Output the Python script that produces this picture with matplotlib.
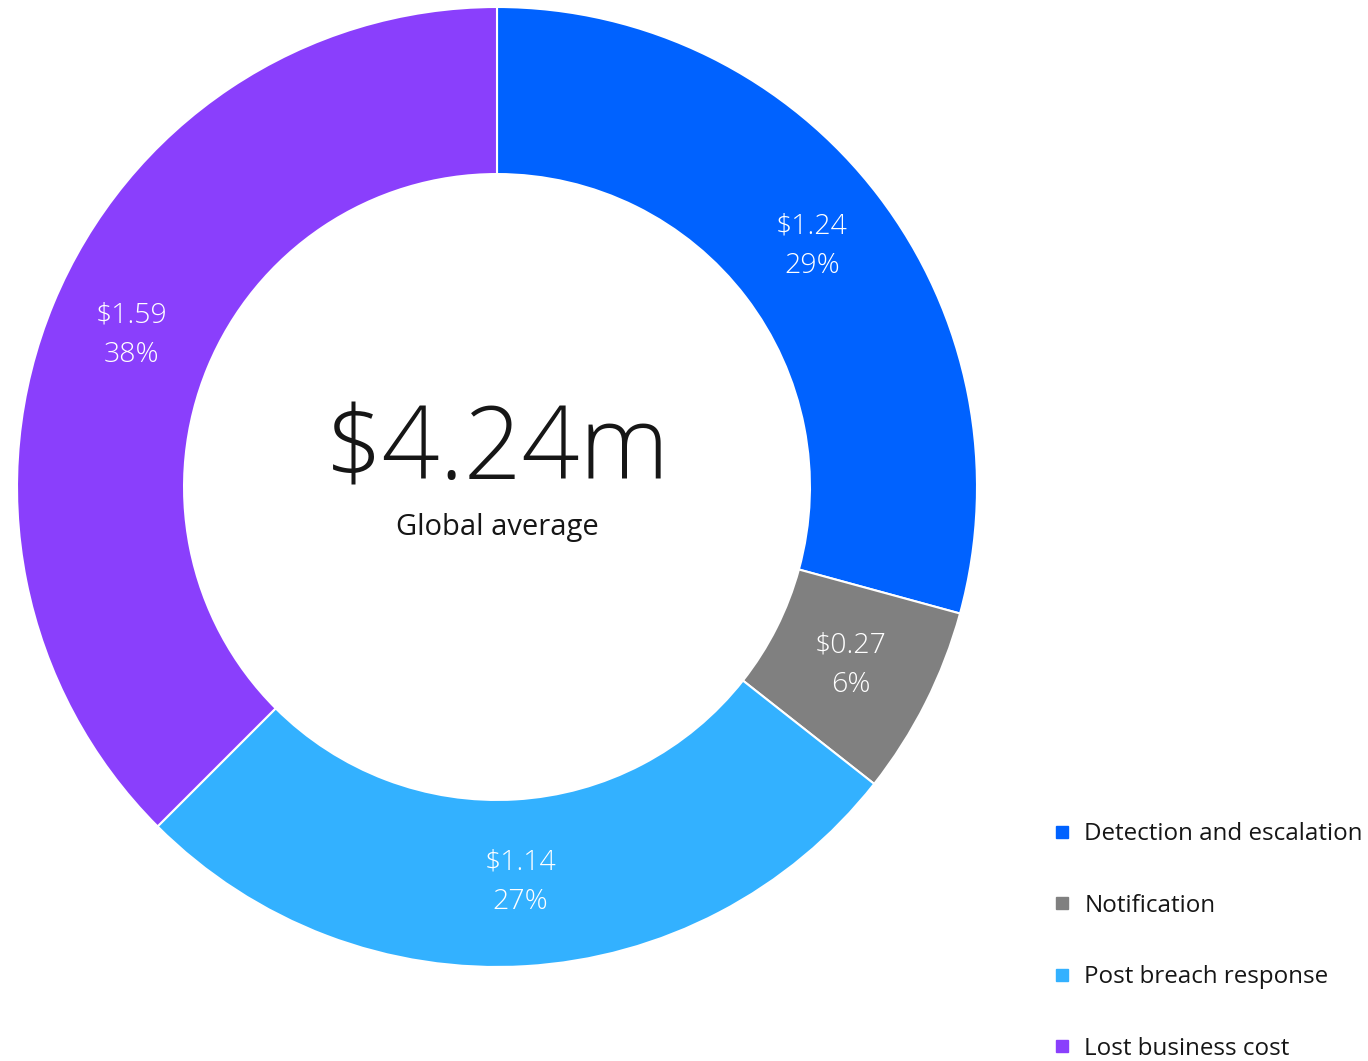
import matplotlib.pyplot as plt
from matplotlib.lines import Line2D
import numpy as np

plt.rcParams['font.family'] = ['Open Sans', 'DejaVu Sans']

categories = ['Detection and escalation', 'Notification', 'Post breach response', 'Lost business cost']
values = [1.24, 0.27, 1.14, 1.59]
percents = [29, 6, 27, 38]
colors = ['#0062ff', '#808080', '#33b1ff', '#8a3ffc']
total_label = '$4.24m'
sub_label = 'Global average'

W, H = 1368, 1061
fig = plt.figure(figsize=(W / 100, H / 100), dpi=100)
cx, cy, R = 497, 487, 480
ax = fig.add_axes([(cx - R) / W, (H - cy - R) / H, 2 * R / W, 2 * R / H])

wedges, _ = ax.pie(values, colors=colors, startangle=90, counterclock=False,
                   radius=1.0, wedgeprops=dict(width=0.348, edgecolor='white', linewidth=1.5))
ax.set_xlim(-1, 1)
ax.set_ylim(-1, 1)
ax.set_aspect('equal')
ax.axis('off')

# value / share labels in the middle of each ring segment
for w, v, p in zip(wedges, values, percents):
    mid = np.deg2rad((w.theta1 + w.theta2) / 2)
    r = 0.825
    ax.text(r * np.cos(mid), r * np.sin(mid), f'${v:.2f}\n{p}%', ha='center', va='center',
            color='white', fontsize=20.5, fontweight='light', linespacing=1.55)

ax.text(0, 0.07, total_label, ha='center', va='center', fontsize=73, fontweight='light', color='#161616')
ax.text(0, -0.085, sub_label, ha='center', va='center', fontsize=21, color='#161616')

handles = [Line2D([], [], marker='s', linestyle='none', markersize=9, color=c) for c in colors]
fig.legend(handles, categories, loc='upper left', bbox_to_anchor=(1054 / W, 1 - 822 / H),
           frameon=False, fontsize=17.4, labelspacing=1.97, handlelength=0.7, handletextpad=0.55,
           borderpad=0, borderaxespad=0, labelcolor='#161616')

fig.savefig('out.png', dpi=100, facecolor='white')
